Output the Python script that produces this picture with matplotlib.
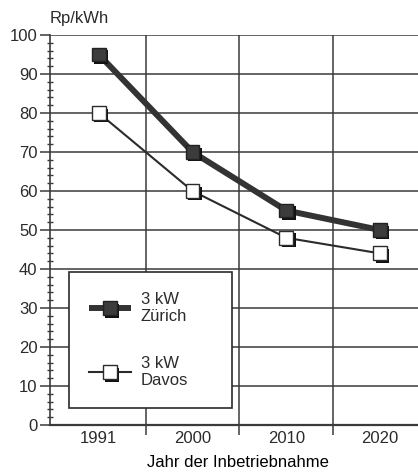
import matplotlib
matplotlib.use("Agg")
import matplotlib.pyplot as plt
import matplotlib.patheffects as pe
from matplotlib.legend_handler import HandlerTuple
from matplotlib.ticker import MultipleLocator, FixedLocator, NullFormatter

# Daten
years = ["1991", "2000", "2010", "2020"]
zuerich = [95, 70, 55, 50]
davos = [80, 60, 48, 44]

INK = "#2b2b2b"
GRID = "#3a3a3a"

plt.rcParams.update({
    "font.family": ["Liberation Sans", "DejaVu Sans"],
    "font.size": 12,
    "text.color": INK,
})

W, H = 418, 476
fig = plt.figure(figsize=(W / 100, H / 100), dpi=100, facecolor="white")
ax = fig.add_axes([50 / W, 1 - 425 / H, 376 / W, 390 / H])

x = list(range(len(years)))
shadow = [pe.SimplePatchShadow(offset=(1.8, -1.8), shadow_rgbFace="#111111", alpha=1.0),
          pe.Normal()]

# Linien
lz, = ax.plot(x, zuerich, color="#333333", lw=4.3, zorder=4, solid_capstyle="butt")
ld, = ax.plot(x, davos, color=INK, lw=1.5, zorder=4)
# Marker mit Schatten
mz, = ax.plot(x, zuerich, ls="none", marker="s", ms=10, mfc="#3c3c3c",
              mec="#222222", mew=1.0, zorder=5, path_effects=shadow)
md, = ax.plot(x, davos, ls="none", marker="s", ms=10, mfc="white",
              mec=INK, mew=1.0, zorder=5, path_effects=shadow)

ax.set_xlim(-0.52, 3.49)
ax.set_ylim(0, 100)

# x-Achse: Trennlinien zwischen Kategorien, Beschriftung in der Mitte
ax.xaxis.set_major_locator(FixedLocator([0.5, 1.5, 2.5]))
ax.xaxis.set_major_formatter(NullFormatter())
ax.xaxis.set_minor_locator(FixedLocator(x))
ax.set_xticklabels(years, minor=True, fontsize=12, color=INK)
ax.tick_params(axis="x", which="major", direction="out", length=7.5,
               width=1.1, color=GRID)
ax.tick_params(axis="x", which="minor", length=0, pad=4)

# y-Achse
ax.yaxis.set_major_locator(MultipleLocator(10))
ax.yaxis.set_minor_locator(MultipleLocator(2))
ax.tick_params(axis="y", which="major", direction="out", length=7,
               width=1.1, color=GRID, pad=2, labelsize=12, labelcolor=INK)
ax.tick_params(axis="y", which="minor", direction="inout", length=5,
               width=1.0, color=GRID)

ax.grid(which="major", color=GRID, lw=1.1)
ax.set_axisbelow(True)
for s in ["top", "right"]:
    ax.spines[s].set_visible(False)
ax.spines["left"].set_color(GRID)
ax.spines["left"].set_linewidth(1.2)
ax.spines["bottom"].set_color(GRID)
ax.spines["bottom"].set_linewidth(1.6)

ax.set_xlabel("Jahr der Inbetriebnahme", fontsize=12, labelpad=7)
fig.text(50 / W, 1 - 18 / H, "Rp/kWh", fontsize=12, va="center", ha="left")

# Legende
leg = ax.legend([(lz, mz), (ld, md)], ["3 kW\nZürich", "3 kW\nDavos"],
                handler_map={tuple: HandlerTuple(ndivide=1)},
                loc="upper left",
                bbox_to_anchor=(69 / W, 1 - 407 / H, 163 / W, 135 / H),
                bbox_transform=fig.transFigure, mode="expand",
                fancybox=False, framealpha=1, edgecolor=INK,
                handlelength=2.5, handletextpad=0.6, labelspacing=1.9,
                borderpad=1.2, borderaxespad=0, fontsize=12)
leg.get_frame().set_linewidth(1.2)
leg.set_zorder(6)

fig.savefig("out.png", dpi=100, facecolor="white")
